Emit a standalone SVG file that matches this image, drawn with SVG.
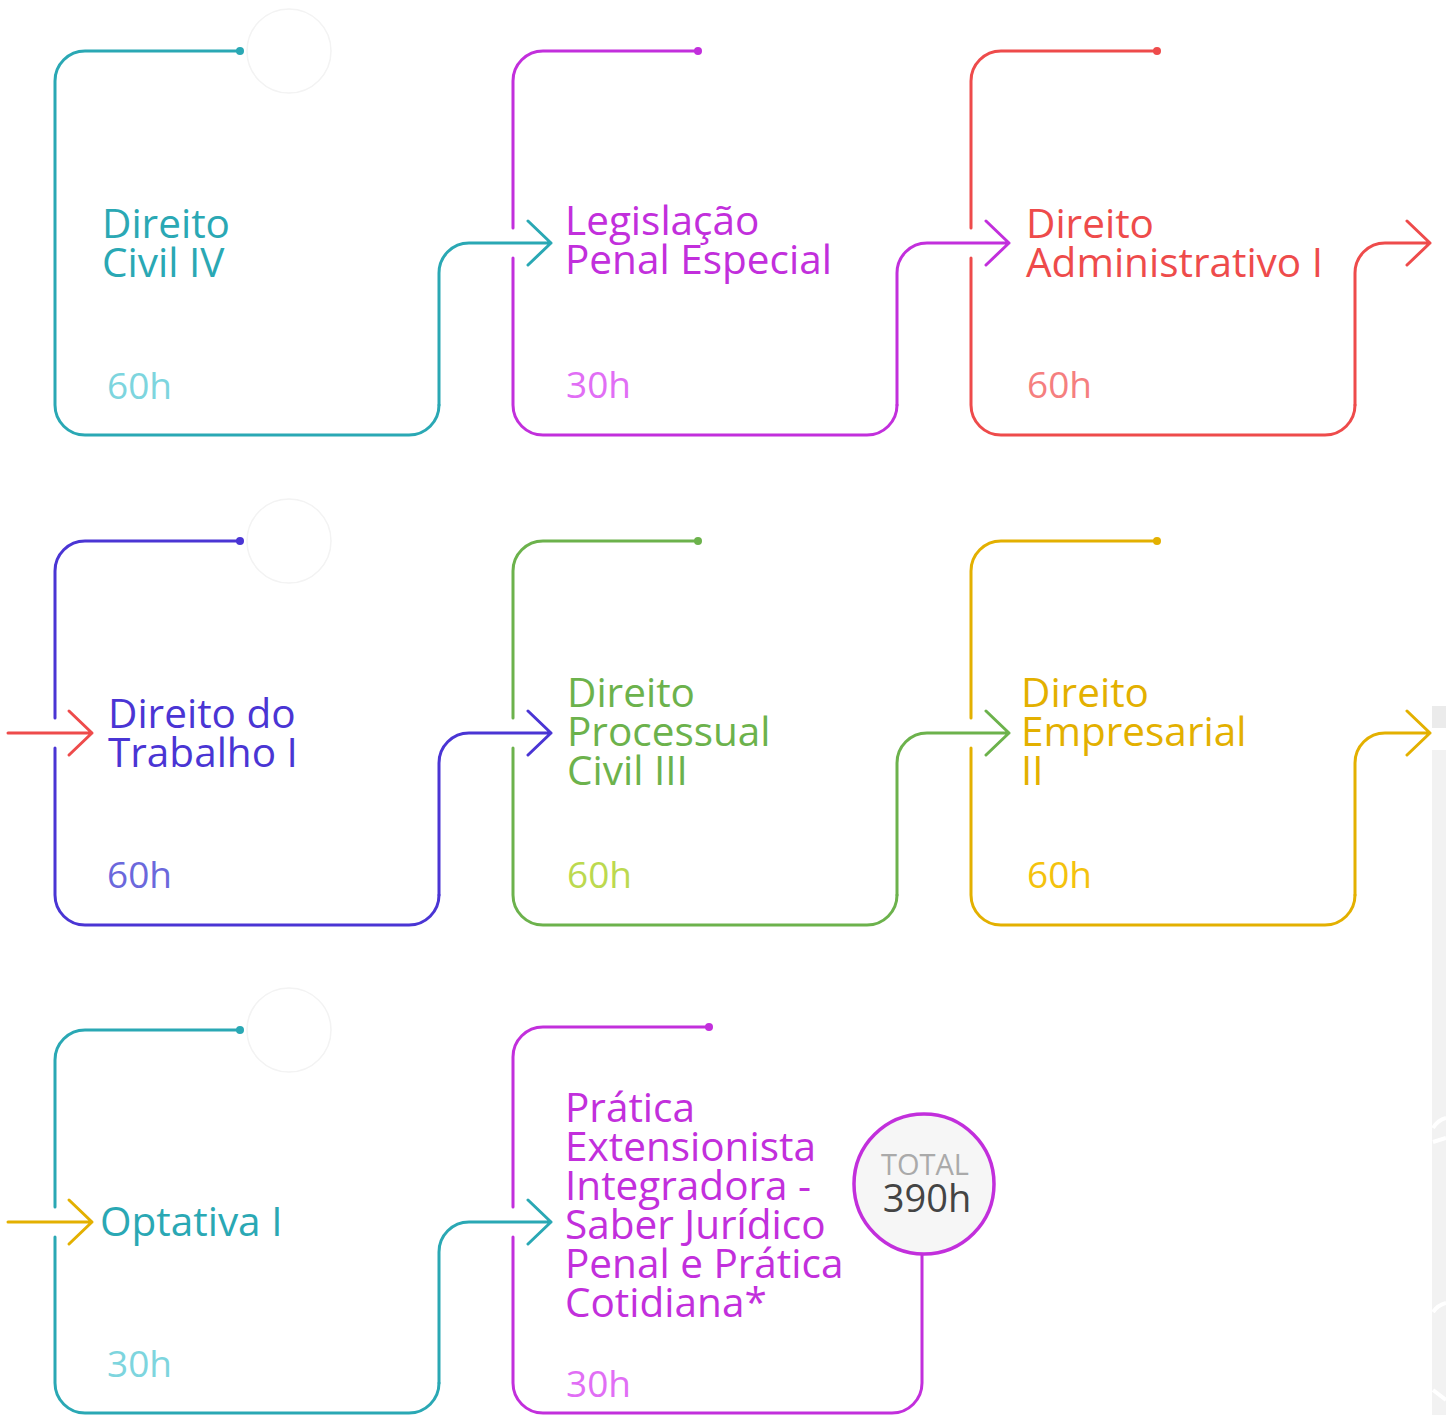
<svg xmlns="http://www.w3.org/2000/svg" width="1446" height="1415" viewBox="0 0 1446 1415">
<style>
  .ln{fill:none;stroke-width:3;stroke-linecap:round;stroke-linejoin:round}
  .t{font-family:"Open Sans","Noto Sans",sans-serif;font-size:40.5px}
  .h{font-family:"Open Sans","Noto Sans",sans-serif;font-size:37px}
  .ghost{fill:none;stroke:#f3f3f3;stroke-width:1.5}
  .teal{stroke:#2aa8b4}.tealf{fill:#2aa8b4}.teall{fill:#7dd5de}
  .mag{stroke:#c22fdc}.magf{fill:#c22fdc}.magl{fill:#e16ef5}
  .red{stroke:#ee4b4b}.redf{fill:#ee4b4b}.redl{fill:#f57f7f}
  .ind{stroke:#4a35d4}.indf{fill:#4a35d4}.indl{fill:#6b68dc}
  .grn{stroke:#6cb24c}.grnf{fill:#6cb24c}.grnl{fill:#bcd94f}
  .gld{stroke:#e3b000}.gldf{fill:#e3b000}.gldl{fill:#f4c20d}
</style>
<rect width="1446" height="1415" fill="#ffffff"/>
<g id="background-strip">
  <rect x="1432" y="706" width="14" height="22" fill="#ebebeb"/>
  <rect x="1432" y="750" width="14" height="665" fill="#f2f2f2"/>
  <path d="M1433,1128 Q1438,1120 1446,1118 M1433,1142 L1446,1138 M1433,1312 Q1438,1305 1446,1303 M1433,1390 L1446,1400" stroke="#ffffff" stroke-width="4" fill="none"/>
</g>
<g id="ghosts">
  <circle class="ghost" cx="289" cy="51" r="42"/>
  <circle class="ghost" cx="289" cy="541" r="42"/>
  <circle class="ghost" cx="289" cy="1030" r="42"/>
</g>
<g id="connectors">
  <path class="ln teal" d="M439,405 V273 A30,30 0 0 1 469,243 H551 M528,221 L551,243 L528,265"/>
  <path class="ln mag" d="M897,405 V273 A30,30 0 0 1 927,243 H1009 M986,221 L1009,243 L986,265"/>
  <path class="ln red" d="M1355,405 V273 A30,30 0 0 1 1385,243 H1430 M1407,221 L1430,243 L1407,265"/>
  <path class="ln red" d="M8,733 H92 M69,711 L92,733 L69,755"/>
  <path class="ln ind" d="M439,895 V763 A30,30 0 0 1 469,733 H551 M528,711 L551,733 L528,755"/>
  <path class="ln grn" d="M897,895 V763 A30,30 0 0 1 927,733 H1009 M986,711 L1009,733 L986,755"/>
  <path class="ln gld" d="M1355,895 V763 A30,30 0 0 1 1385,733 H1430 M1407,711 L1430,733 L1407,755"/>
  <path class="ln gld" d="M8,1222 H92 M69,1200 L92,1222 L69,1244"/>
  <path class="ln teal" d="M439,1383 V1252 A30,30 0 0 1 469,1222 H551 M528,1200 L551,1222 L528,1244"/>
</g>
<g id="node-civil-iv">
  <path class="ln teal" d="M240,51 H85 A30,30 0 0 0 55,81 V405 A30,30 0 0 0 85,435 H409 A30,30 0 0 0 439,405"/>
  <circle class="tealf" cx="240" cy="51" r="4"/>
  <text class="t tealf" x="102" y="238">Direito</text>
  <text class="t tealf" x="102" y="277">Civil IV</text>
  <text class="h teall" x="107" y="399">60h</text>
</g>
<g id="node-legislacao">
  <path class="ln mag" d="M698,51 H543 A30,30 0 0 0 513,81 V228 M513,258 V405 A30,30 0 0 0 543,435 H867 A30,30 0 0 0 897,405"/>
  <circle class="magf" cx="698" cy="51" r="4"/>
  <text class="t magf" x="565" y="235">Legislação</text>
  <text class="t magf" x="565" y="274">Penal Especial</text>
  <text class="h magl" x="566" y="398">30h</text>
</g>
<g id="node-administrativo">
  <path class="ln red" d="M1157,51 H1001 A30,30 0 0 0 971,81 V228 M971,258 V405 A30,30 0 0 0 1001,435 H1325 A30,30 0 0 0 1355,405"/>
  <circle class="redf" cx="1157" cy="51" r="4"/>
  <text class="t redf" x="1026" y="238">Direito</text>
  <text class="t redf" x="1026" y="277">Administrativo I</text>
  <text class="h redl" x="1027" y="398">60h</text>
</g>
<g id="node-trabalho">
  <path class="ln ind" d="M240,541 H85 A30,30 0 0 0 55,571 V718 M55,748 V895 A30,30 0 0 0 85,925 H409 A30,30 0 0 0 439,895"/>
  <circle class="indf" cx="240" cy="541" r="4"/>
  <text class="t indf" x="108" y="728">Direito do</text>
  <text class="t indf" x="108" y="767">Trabalho I</text>
  <text class="h indl" x="107" y="888">60h</text>
</g>
<g id="node-processual">
  <path class="ln grn" d="M698,541 H543 A30,30 0 0 0 513,571 V718 M513,748 V895 A30,30 0 0 0 543,925 H867 A30,30 0 0 0 897,895"/>
  <circle class="grnf" cx="698" cy="541" r="4"/>
  <text class="t grnf" x="567" y="707">Direito</text>
  <text class="t grnf" x="567" y="746">Processual</text>
  <text class="t grnf" x="567" y="785">Civil III</text>
  <text class="h grnl" x="567" y="888">60h</text>
</g>
<g id="node-empresarial">
  <path class="ln gld" d="M1157,541 H1001 A30,30 0 0 0 971,571 V718 M971,748 V895 A30,30 0 0 0 1001,925 H1325 A30,30 0 0 0 1355,895"/>
  <circle class="gldf" cx="1157" cy="541" r="4"/>
  <text class="t gldf" x="1021" y="707">Direito</text>
  <text class="t gldf" x="1021" y="746">Empresarial</text>
  <text class="t gldf" x="1021" y="785">II</text>
  <text class="h gldl" x="1027" y="888">60h</text>
</g>
<g id="node-optativa">
  <path class="ln teal" d="M240,1030 H85 A30,30 0 0 0 55,1060 V1207 M55,1237 V1383 A30,30 0 0 0 85,1413 H409 A30,30 0 0 0 439,1383"/>
  <circle class="tealf" cx="240" cy="1030" r="4"/>
  <text class="t tealf" x="100" y="1236">Optativa I</text>
  <text class="h teall" x="107" y="1377">30h</text>
</g>
<g id="node-pratica">
  <path class="ln mag" d="M709,1027 H543 A30,30 0 0 0 513,1057 V1207 M513,1237 V1383 A30,30 0 0 0 543,1413 H892 A30,30 0 0 0 922,1383 V1254"/>
  <circle class="magf" cx="709" cy="1027" r="4"/>
  <text class="t magf" x="565" y="1122">Prática</text>
  <text class="t magf" x="565" y="1161">Extensionista</text>
  <text class="t magf" x="565" y="1200">Integradora -</text>
  <text class="t magf" x="565" y="1239">Saber Jurídico</text>
  <text class="t magf" x="565" y="1278">Penal e Prática</text>
  <text class="t magf" x="565" y="1317">Cotidiana*</text>
  <text class="h magl" x="566" y="1397">30h</text>
</g>
<g id="node-total">
  <circle cx="924" cy="1184" r="70" fill="#f6f6f6" stroke="#c22fdc" stroke-width="3.5"/>
  <text x="925" y="1175" text-anchor="middle" font-family="'Open Sans','Noto Sans',sans-serif" font-size="29" fill="#aaaaaa">TOTAL</text>
  <text x="927" y="1212" text-anchor="middle" font-family="'Open Sans','Noto Sans',sans-serif" font-size="38" fill="#444444">390h</text>
</g>
</svg>
